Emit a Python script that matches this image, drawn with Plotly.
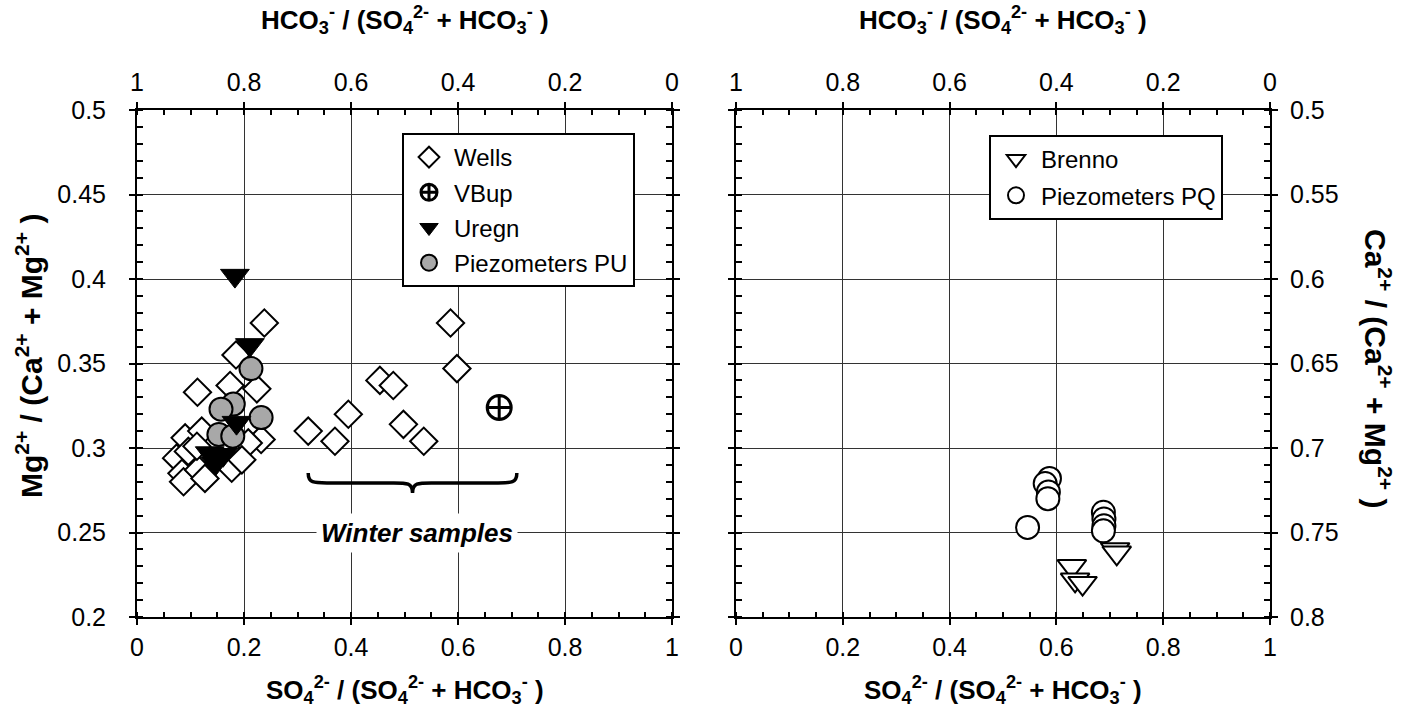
import plotly.graph_objects as go

FONT = "Liberation Sans, Arial, sans-serif"
W, H = 1403, 717

# ---------------- data (left panel) ----------------
wells_x = [0.238, 0.185, 0.113, 0.174, 0.224, 0.232, 0.208, 0.090, 0.121, 0.074,
           0.096, 0.084, 0.087, 0.115, 0.127, 0.177, 0.196, 0.112,
           0.586, 0.598, 0.454, 0.479, 0.395, 0.320, 0.370, 0.498, 0.536]
wells_y = [0.374, 0.355, 0.333, 0.337, 0.335, 0.305, 0.303, 0.306, 0.310, 0.294,
           0.298, 0.285, 0.280, 0.287, 0.282, 0.288, 0.293, 0.301,
           0.374, 0.347, 0.340, 0.337, 0.320, 0.310, 0.304, 0.314, 0.304]
vbup_x = [0.677]
vbup_y = [0.324]
uregn_x = [0.183, 0.211, 0.186, 0.136, 0.161, 0.147]
uregn_y = [0.402, 0.361, 0.315, 0.297, 0.296, 0.291]
pu_x = [0.213, 0.180, 0.157, 0.232, 0.153, 0.179]
pu_y = [0.347, 0.326, 0.323, 0.318, 0.308, 0.307]

# ---------------- data (right panel) ----------------
pq_x = [0.546, 0.587, 0.579, 0.585, 0.584, 0.688, 0.689, 0.689, 0.688]
pq_y = [0.747, 0.718, 0.721, 0.726, 0.730, 0.738, 0.742, 0.746, 0.749]
brenno_x = [0.710, 0.713, 0.629, 0.635, 0.649]
brenno_y = [0.760, 0.762, 0.770, 0.778, 0.780]

# winter-samples brace (data units of left panel)
brace_x = [0.32, 0.71]
brace_y = [0.2852, 0.2793, 0.2734]  # tips, bar, centre point
winter_label_xy = [0.523, 0.25]

# axis ticks
x_ticks = [0, 0.2, 0.4, 0.6, 0.8, 1]
left_y_range = [0.2, 0.5]
right_y_range = [0.8, 0.5]

# ---------------- layout geometry ----------------
xL = [137 / W, 672 / W]
xR = [736 / W, 1270 / W]
yD = [1 - 617 / H, 1 - 110 / H]

fig = go.Figure()

def mk(symbol, size, fill, lw, lcol="black"):
    return dict(symbol=symbol, size=size, color=fill, line=dict(color=lcol, width=lw))

fig.add_trace(go.Scatter(x=wells_x, y=wells_y, mode="markers", name="Wells",
                         marker=mk("diamond", 21, "white", 2), xaxis="x", yaxis="y",
                         legend="legend", legendrank=1, legendgroup="a"))
fig.add_trace(go.Scatter(x=vbup_x, y=vbup_y, mode="markers", name="VBup",
                         marker=mk("circle-cross-open", 24, "black", 3), xaxis="x", yaxis="y",
                         legend="legend", legendrank=2, legendgroup="b"))
fig.add_trace(go.Scatter(x=pu_x, y=pu_y, mode="markers", name="Piezometers PU",
                         marker=mk("circle", 23, "#a8a8a8", 2), xaxis="x", yaxis="y",
                         legend="legend", legendrank=4, legendgroup="d"))
fig.add_trace(go.Scatter(x=uregn_x, y=uregn_y, mode="markers", name="Uregn",
                         marker=mk("triangle-down", 25, "black", 1), xaxis="x", yaxis="y",
                         legend="legend", legendrank=3, legendgroup="c"))

fig.add_trace(go.Scatter(x=pq_x, y=pq_y, mode="markers", name="Piezometers PQ",
                         marker=mk("circle", 23, "white", 2), xaxis="x2", yaxis="y2",
                         legend="legend2", legendrank=2, legendgroup="f"))
fig.add_trace(go.Scatter(x=brenno_x, y=brenno_y, mode="markers", name="Brenno",
                         marker=mk("triangle-down", 25, "white", 2), xaxis="x2", yaxis="y2",
                         legend="legend2", legendrank=1, legendgroup="e"))

# empty helper traces so that the top (HCO3-) axes are created
fig.add_trace(go.Scatter(x=[None], y=[None], mode="markers", xaxis="x3", yaxis="y",
                         showlegend=False, hoverinfo="skip"))
fig.add_trace(go.Scatter(x=[None], y=[None], mode="markers", xaxis="x4", yaxis="y2",
                         showlegend=False, hoverinfo="skip"))

tickfont = dict(size=25, family=FONT, color="black")
GRID = "#333333"

def xax(domain, anchor, rng, side="bottom", overlay=None, grid=True):
    d = dict(domain=domain, anchor=anchor, range=rng, side=side, tickmode="array",
             tickvals=x_ticks, ticktext=[f"{v:g}" for v in x_ticks],
             showline=True, linecolor="black", linewidth=2,
             ticks="outside", ticklen=6, tickwidth=2, tickcolor="black",
             showgrid=grid, gridcolor=GRID, gridwidth=1, zeroline=False,
             tickfont=tickfont, automargin=False, ticklabelstandoff=1,
             minor=dict(tickmode="linear", tick0=0, dtick=0.05, ticks="inside",
                        ticklen=5, tickwidth=1.5, tickcolor="black", showgrid=False),
             fixedrange=True)
    if overlay:
        d["overlaying"] = overlay
    else:
        d["mirror"] = True
    return d

def yax(domain, anchor, rng, side="left", standoff=18):
    return dict(domain=domain, anchor=anchor, range=rng, side=side,
                tickmode="linear", tick0=0.2, dtick=0.05,
                showline=True, linecolor="black", linewidth=2, mirror="allticks",
                ticks="outside", ticklen=6, tickwidth=2, tickcolor="black",
                showgrid=True, gridcolor=GRID, gridwidth=1, zeroline=False,
                tickfont=tickfont, automargin=False, ticklabelstandoff=standoff,
                minor=dict(tickmode="linear", tick0=0, dtick=0.01, ticks="inside",
                           ticklen=5, tickwidth=1.5, tickcolor="black", showgrid=False),
                fixedrange=True)

title_font = dict(size=26, family=FONT, color="black")
ytitle_font = dict(size=30, family=FONT, color="black")
t_so4 = "<b>SO<sub>4</sub><sup>2-</sup> / (SO<sub>4</sub><sup>2-</sup> + HCO<sub>3</sub><sup>-</sup> )</b>"
t_hco3 = "<b>HCO<sub>3</sub><sup>-</sup> / (SO<sub>4</sub><sup>2-</sup> + HCO<sub>3</sub><sup>-</sup> )</b>"
t_mg = "<b>Mg<sup>2+</sup> / (Ca<sup>2+</sup> + Mg<sup>2+</sup> )</b>"
t_ca = "<b>Ca<sup>2+</sup> / (Ca<sup>2+</sup> + Mg<sup>2+</sup> )</b>"

cxL = (xL[0] + xL[1]) / 2
cxR = (xR[0] + xR[1]) / 2

annotations = [
    dict(text=t_so4, x=cxL, y=1 - 690 / H, xref="paper", yref="paper", showarrow=False,
         font=title_font, xanchor="center", yanchor="middle"),
    dict(text=t_so4, x=cxR, y=1 - 690 / H, xref="paper", yref="paper", showarrow=False,
         font=title_font, xanchor="center", yanchor="middle"),
    dict(text=t_hco3, x=cxL, y=1 - 20 / H, xref="paper", yref="paper", showarrow=False,
         font=title_font, xanchor="center", yanchor="middle"),
    dict(text=t_hco3, x=cxR, y=1 - 20 / H, xref="paper", yref="paper", showarrow=False,
         font=title_font, xanchor="center", yanchor="middle"),
    dict(text=t_mg, x=29 / W, y=1 - 356 / H, xref="paper", yref="paper", showarrow=False,
         font=ytitle_font, textangle=-90, xanchor="center", yanchor="middle"),
    dict(text=t_ca, x=1378 / W, y=1 - 368 / H, xref="paper", yref="paper", showarrow=False,
         font=ytitle_font, textangle=90, xanchor="center", yanchor="middle"),
    dict(text="<b><i>Winter samples</i></b>", x=winter_label_xy[0], y=winter_label_xy[1],
         xref="x", yref="y", showarrow=False, bgcolor="white", borderpad=4,
         font=dict(size=26, family=FONT, color="black"), xanchor="center", yanchor="middle"),
]

# brace path
x0, x1 = brace_x
xc = (x0 + x1) / 2
yt, ym, yb = brace_y
dx = 0.035
path = (f"M {x0},{yt} C {x0},{ym} {x0+dx*0.3},{ym} {x0+dx},{ym} "
        f"L {xc-dx},{ym} C {xc-dx*0.3},{ym} {xc},{ym} {xc},{yb} "
        f"C {xc},{ym} {xc+dx*0.3},{ym} {xc+dx},{ym} "
        f"L {x1-dx},{ym} C {x1-dx*0.3},{ym} {x1},{ym} {x1},{yt}")
shapes = [dict(type="path", path=path, xref="x", yref="y",
               line=dict(color="black", width=3.5))]

legend_common = dict(bgcolor="white", bordercolor="black", borderwidth=2,
                     font=dict(size=24, family=FONT, color="black"),
                     xanchor="left", yanchor="top", traceorder="grouped",
                     itemsizing="trace", itemwidth=40)

fig.update_layout(
    width=W, height=H, autosize=False, template="none",
    margin=dict(l=0, r=0, t=0, b=0, pad=0),
    paper_bgcolor="white", plot_bgcolor="white",
    font=dict(family=FONT, color="black"),
    xaxis=xax(xL, "y", [0, 1]),
    xaxis3=xax(xL, "y", [1, 0], side="top", overlay="x", grid=False),
    yaxis=yax(yD, "x", left_y_range, standoff=18),
    xaxis2=xax(xR, "y2", [0, 1]),
    xaxis4=xax(xR, "y2", [1, 0], side="top", overlay="x2", grid=False),
    yaxis2=yax(yD, "x2", right_y_range, side="right", standoff=7),
    legend=dict(x=402 / W, y=1 - 133 / H, tracegroupgap=1, **legend_common),
    legend2=dict(x=989 / W, y=1 - 135 / H, tracegroupgap=2, **legend_common),
    annotations=annotations,
    shapes=shapes,
    showlegend=True,
)

fig.write_html("out.html")
